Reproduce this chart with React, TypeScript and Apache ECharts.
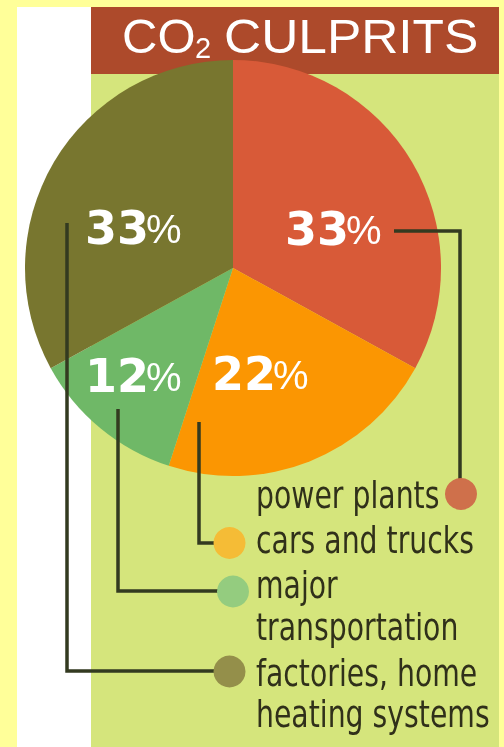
import React, { useEffect, useRef } from 'react';
import * as echarts from 'echarts';

// ---- data ----
const categories = ['power plants', 'cars and trucks', 'major transportation', 'factories, home heating systems'];
const values = [33, 22, 12, 33];
const legendLines = [['power plants'], ['cars and trucks'], ['major', 'transportation'], ['factories, home', 'heating systems']];
const titleMain = 'CO';
const titleSub = '2';
const titleRest = 'CULPRITS';

// ---- styles ----
const sliceColors = ['#D85A38', '#FB9602', '#6FB867', '#78762F'];
const dotColors = ['#CF704B', '#F5BC36', '#94CC7F', '#948F4A'];
const lineColor = '#333A20';
const textColor = '#30301A';

export default function App() {
  const ref = useRef<HTMLDivElement>(null);

  useEffect(() => {
    const chart = echarts.init(ref.current!, null, { renderer: 'svg', width: 504, height: 747 });

    // label placement (layout only)
    const pctPos = [
      { px: 348, y: 229 },
      { px: 275, y: 374 },
      { px: 148, y: 376 },
      { px: 148, y: 228 },
    ];
    const leader = [
      [[394, 231], [460, 231], [460, 482]],
      [[199, 422], [199, 543], [216, 543]],
      [[118, 409], [118, 591], [220, 591]],
      [[67, 223], [67, 671], [216, 671]],
    ];
    const dots = [
      [461, 494],
      [229.5, 543],
      [233, 591.5],
      [229.5, 671.5],
    ];
    const legendY = [[495], [540], [585, 627], [673, 714]];

    const graphics: any[] = [
      { type: 'rect', z: -10, shape: { x: 0, y: 0, width: 504, height: 747 }, style: { fill: '#FFFF99' } },
      { type: 'rect', z: -9, shape: { x: 17, y: 7, width: 74, height: 740 }, style: { fill: '#FFFFFF' } },
      { type: 'rect', z: -9, shape: { x: 91, y: 74, width: 408, height: 673 }, style: { fill: '#D5E57C' } },
      { type: 'rect', z: -9, shape: { x: 91, y: 7, width: 408, height: 67 }, style: { fill: '#AD4A2B' } },
      {
        type: 'text', z: 1, x: 122, y: 36,
        style: { text: titleMain, fill: '#FFFFFF', font: 'normal 49px "Liberation Sans", Arial, sans-serif', textAlign: 'left', textVerticalAlign: 'middle' },
      },
      {
        type: 'text', z: 1, x: 195, y: 48,
        style: { text: titleSub, fill: '#FFFFFF', font: 'normal 29px "Liberation Sans", Arial, sans-serif', textAlign: 'left', textVerticalAlign: 'middle' },
      },
      {
        type: 'text', z: 1, x: 224, y: 36, scaleX: 1.05,
        style: { text: titleRest, fill: '#FFFFFF', font: 'normal 49px "Liberation Sans", Arial, sans-serif', textAlign: 'left', textVerticalAlign: 'middle' },
      },
    ];

    values.forEach((v, i) => {
      const p = pctPos[i];
      graphics.push({
        type: 'text', z: 10, x: p.px + 1, y: p.y,
        style: { text: String(v), fill: '#FFFFFF', font: 'bold 46px "DejaVu Sans", sans-serif', textAlign: 'right', textVerticalAlign: 'middle' },
      });
      graphics.push({
        type: 'text', z: 10, x: p.px - 2, y: p.y + 1,
        style: { text: '%', fill: '#FFFFFF', font: 'normal 40px "Liberation Sans", Arial, sans-serif', textAlign: 'left', textVerticalAlign: 'middle' },
      });
      graphics.push({
        type: 'polyline', z: 10, shape: { points: leader[i] },
        style: { stroke: lineColor, lineWidth: 3.5, fill: null },
      });
      graphics.push({
        type: 'circle', z: 11, shape: { cx: dots[i][0], cy: dots[i][1], r: 16 },
        style: { fill: dotColors[i] },
      });
      legendLines[i].forEach((line, j) => {
        graphics.push({
          type: 'text', z: 10, x: 256, y: legendY[i][j], scaleX: 0.745,
          style: { text: line, fill: textColor, font: 'normal 38px "DejaVu Sans", sans-serif', textAlign: 'left', textVerticalAlign: 'middle' },
        });
      });
    });

    chart.setOption({
      animation: false,
      series: [
        {
          type: 'pie',
          z: 2,
          center: [233, 268],
          radius: 208,
          startAngle: 90,
          clockwise: true,
          label: { show: false },
          labelLine: { show: false },
          emphasis: { disabled: true },
          itemStyle: { borderWidth: 0 },
          data: categories.map((name, i) => ({ name, value: values[i], itemStyle: { color: sliceColors[i] } })),
        },
      ],
      graphic: { elements: graphics },
    });

    return () => chart.dispose();
  }, []);

  return <div ref={ref} style={{ position: 'fixed', left: 0, top: 0, width: 504, height: 747 }} />;
}
